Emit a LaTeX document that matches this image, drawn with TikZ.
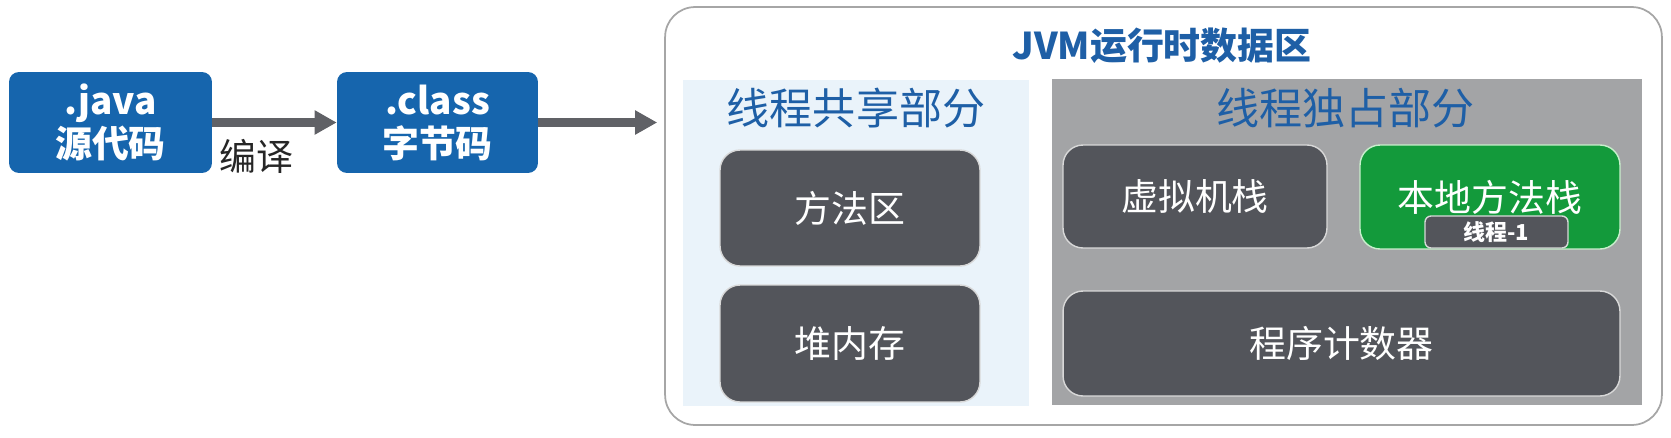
\documentclass[tikz,border=0pt]{standalone}
\usepackage{fontspec}
\setmainfont{Noto Sans CJK SC}
\usepackage{tikz}
\usetikzlibrary{arrows.meta}
\definecolor{fileblue}{HTML}{1665AD}
\definecolor{titleblue}{HTML}{1E5FA6}
\definecolor{sharedblue}{HTML}{EAF3FA}
\definecolor{ownedgray}{HTML}{A3A4A6}
\definecolor{blockgray}{HTML}{53555B}
\definecolor{blockedge}{HTML}{D8D8D8}
\definecolor{nativegreen}{HTML}{139A3B}
\definecolor{nativeedge}{HTML}{C8EFCC}
\definecolor{flowgray}{HTML}{606166}
\tikzstyle{srcfile} = [fill=fileblue, text=white, rounded corners=0.2cm, align=center, inner sep=0pt, minimum height=2.02cm, font=\bfseries\fontsize{21}{24.5}\selectfont]
\tikzstyle{region} = [inner sep=0pt, minimum width=6.92cm, minimum height=6.52cm]
\tikzstyle{regiontitle} = [text=titleblue, font=\fontsize{24.5}{26}\selectfont]
\tikzstyle{memblock} = [draw=blockedge, line width=0.8pt, fill=blockgray, text=white, rounded corners=0.4cm, inner sep=0pt, font=\fontsize{21}{22}\selectfont]
\tikzstyle{flow} = [draw=flowgray, line width=5pt, -{Triangle[length=12.5pt,width=13pt]}]

\begin{document}
\begin{tikzpicture}[x=0.02cm,y=-0.02cm]
	\useasboundingbox (0,0) rectangle (1671,437);
	% source and bytecode
	\node[srcfile, minimum width=4.06cm](java) at (110.5,122.5){.java\\源代码};
	\node[srcfile, minimum width=4.02cm](class) at (437.5,122.5){.class\\字节码};
	\node[font=\fontsize{21}{22}\selectfont, text=black!85](compile) at (256,156){编译};
	% runtime data area
	\node[draw=black!35, line width=1pt, rounded corners=0.6cm, minimum width=19.94cm, minimum height=8.36cm](jvm) at (1163.5,216){};
	\node[text=titleblue, font=\bfseries\fontsize{21}{22}\selectfont](title) at (1162,46){JVM运行时数据区};
	\node[region, fill=sharedblue](shared) at (856,243){};
	\node[regiontitle](sharedtitle) at (856,108){线程共享部分};
	\node[memblock, minimum width=5.2cm, minimum height=2.32cm](method) at (850,208){方法区};
	\node[memblock, minimum width=5.2cm, minimum height=2.34cm](heap) at (850,343.5){堆内存};
	\node[region, fill=ownedgray, minimum width=11.8cm](owned) at (1347,242){};
	\node[regiontitle](ownedtitle) at (1345.5,108){线程独占部分};
	\node[memblock, minimum width=5.28cm, minimum height=2.06cm](vmstack) at (1195,196.5){虚拟机栈};
	\node[memblock, draw=nativeedge, fill=nativegreen, minimum width=5.2cm, minimum height=2.08cm](native) at (1490,197){本地方法栈};
	\node[memblock, rounded corners=0.12cm, minimum width=2.86cm, minimum height=0.64cm, font=\bfseries\fontsize{12.5}{13}\selectfont](thread) at (1496.5,232){线程-1};
	\node[memblock, minimum width=11.14cm, minimum height=2.1cm](pc) at (1341.5,343.5){程序计数器};
	% flow
	\draw[flow] (java) -- (class);
	\draw[flow, shorten >=4pt] (class) -- (class -| jvm.west);
\end{tikzpicture}
\end{document}
